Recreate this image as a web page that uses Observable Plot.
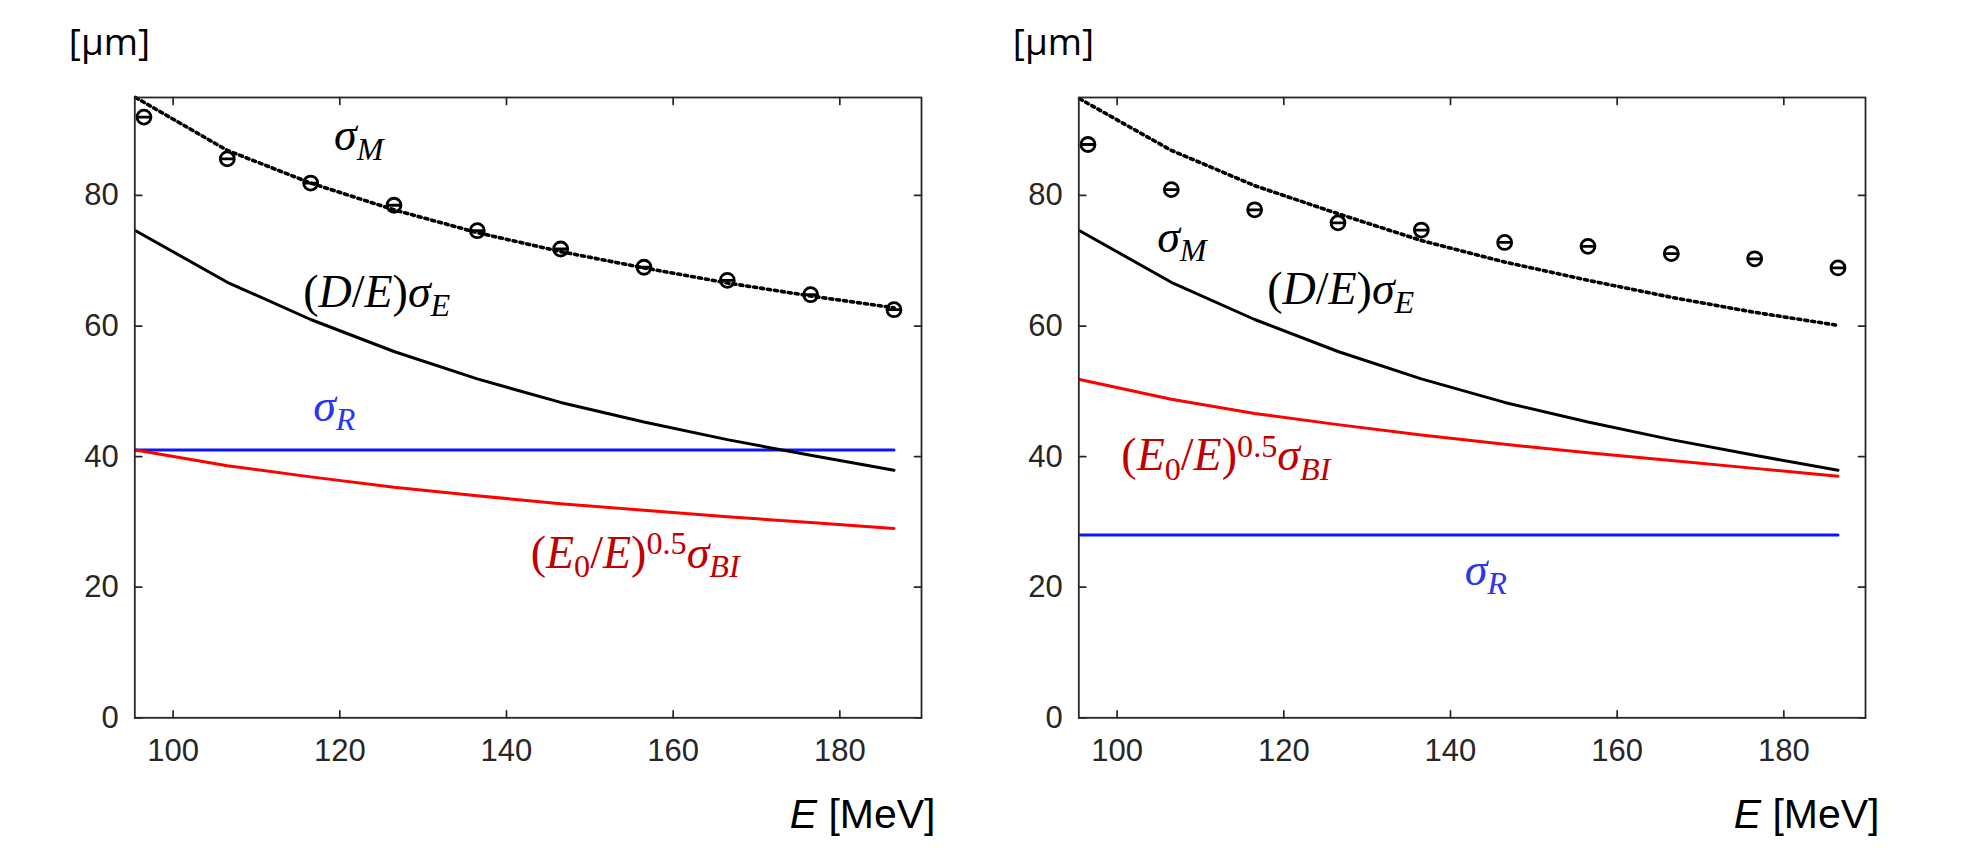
<!DOCTYPE html>
<html><head><meta charset="utf-8">
<script src="https://cdn.jsdelivr.net/npm/d3@7"></script>
<script src="https://cdn.jsdelivr.net/npm/@observablehq/plot@0.6"></script>
<style>
body{margin:0;background:#fff;}
#row{display:flex;width:1962px;height:864px;}
</style></head><body><div id="row"></div>
<script>
// ---- data ----
const xTicks = [100, 120, 140, 160, 180];
const yTicks = [0, 20, 40, 60, 80];
const curveE  = [95.5, 106.5, 116.5, 126.5, 136.5, 146.5, 156.5, 166.5, 176.5, 186.5];
const markerE = [96.5, 106.5, 116.5, 126.5, 136.5, 146.5, 156.5, 166.5, 176.5, 186.5];

const leftDE   = [74.6, 66.7, 61.0, 56.1, 51.9, 48.3, 45.3, 42.6, 40.2, 37.9];
const leftBI   = [41.0, 38.6, 36.9, 35.3, 34.0, 32.8, 31.8, 30.8, 29.9, 29.0];
const leftR    = [41.0, 41.0, 41.0, 41.0, 41.0, 41.0, 41.0, 41.0, 41.0, 41.0];
const leftM    = [95.0, 86.9, 81.9, 77.8, 74.3, 71.4, 68.9, 66.6, 64.6, 62.8];
const leftMeas = [92.0, 85.6, 81.9, 78.5, 74.6, 71.8, 69.0, 67.0, 64.8, 62.5];

const rightDE   = [74.6, 66.7, 61.0, 56.1, 51.9, 48.3, 45.3, 42.6, 40.2, 37.9];
const rightBI   = [51.8, 48.8, 46.6, 44.9, 43.3, 41.9, 40.6, 39.4, 38.2, 37.0];
const rightR    = [28.0, 28.0, 28.0, 28.0, 28.0, 28.0, 28.0, 28.0, 28.0, 28.0];
const rightM    = [94.8, 86.9, 81.5, 77.2, 73.1, 69.8, 67.0, 64.4, 62.1, 60.1];
const rightMeas = [87.8, 80.9, 77.8, 75.8, 74.7, 72.8, 72.2, 71.1, 70.3, 68.9];

const labelTexts = ["σ_{M}", "(D/E)σ_{E}", "σ_{R}", "(E_{0}/E)^{0.5}σ_{BI}"];
const labelColors = ["#000000", "#000000", "#2b36f2", "#c00000"];
const leftLabelX  = [119.3, 115.6, 116.8, 142.9];
const leftLabelY  = [86.9, 62.9, 45.5, 22.9];
const rightLabelX = [104.8, 118.0, 141.7, 100.5];
const rightLabelY = [71.3, 63.4, 20.3, 37.9];

const yUnit = "[µm]";
const xUnit = "E [MeV]";

// ---- helpers ----
const circleMinus = {
  draw(ctx, size) {
    const r = Math.sqrt(size / Math.PI);
    ctx.moveTo(r, 0);
    ctx.arc(0, 0, r, 0, 2 * Math.PI);
    ctx.moveTo(-r, 0);
    ctx.lineTo(r, 0);
  }
};
const tickUp    = {draw(ctx, l) { ctx.moveTo(0, 0); ctx.lineTo(0, -l); }};
const tickDown  = {draw(ctx, l) { ctx.moveTo(0, 0); ctx.lineTo(0, l); }};
const tickRight = {draw(ctx, l) { ctx.moveTo(0, 0); ctx.lineTo(l, 0); }};
const tickLeft  = {draw(ctx, l) { ctx.moveTo(0, 0); ctx.lineTo(-l, 0); }};

const F = 46;
function renderMath(el, markup) {
  const tokens = [];
  let i = 0;
  while (i < markup.length) {
    const c = markup[i];
    if ((c === "_" || c === "^") && markup[i + 1] === "{") {
      const j = markup.indexOf("}", i);
      tokens.push({s: markup.slice(i + 2, j), k: c === "_" ? "sub" : "sup"});
      i = j + 1;
    } else {
      let j = i;
      while (j < markup.length && !((markup[j] === "_" || markup[j] === "^") && markup[j + 1] === "{")) j++;
      tokens.push({s: markup.slice(i, j), k: "base"});
      i = j;
    }
  }
  el.textContent = "";
  let cur = 0;
  for (const t of tokens) {
    const target = t.k === "sub" ? 0.2 * F : t.k === "sup" ? -0.3 * F : 0;
    const runs = t.s.match(/[A-Za-zσ]+|[^A-Za-zσ]+/g);
    let first = true;
    for (const r of runs) {
      const ts = document.createElementNS("http://www.w3.org/2000/svg", "tspan");
      ts.textContent = r;
      ts.setAttribute("font-size", t.k === "base" ? F : 0.7 * F);
      ts.setAttribute("font-style", /[A-Za-zσ]/.test(r[0]) ? "italic" : "normal");
      if (first) { ts.setAttribute("dy", (target - cur).toFixed(2)); cur = target; first = false; }
      el.appendChild(ts);
    }
  }
}

function panel(DE, BI, R, M, meas, lx, ly) {
  const rows = (vals) => curveE.map((E, i) => ({E, v: vals[i]}));
  const pts = markerE.map((E, i) => ({E, v: meas[i]}));
  const labels = labelTexts.map((t, i) => ({t, x: lx[i], y: ly[i], c: labelColors[i]}));
  const tk = {length: 7, anchor: "start", stroke: "#262626", strokeWidth: 1.7};
  const svg = Plot.plot({
    width: 944, height: 864,
    marginLeft: 134.3, marginRight: 23, marginTop: 97, marginBottom: 146.7,
    style: {background: "white", color: "#262626", overflow: "visible", fontFamily: "Liberation Sans"},
    x: {domain: [95.4, 189.8]},
    y: {domain: [0, 95]},
    marks: [
      Plot.line(rows(R), {x: "E", y: "v", stroke: "#0a14ff", strokeWidth: 3}),
      Plot.line(rows(BI), {x: "E", y: "v", stroke: "#ff0000", strokeWidth: 3}),
      Plot.line(rows(DE), {x: "E", y: "v", stroke: "#000000", strokeWidth: 3}),
      Plot.line(rows(M), {x: "E", y: "v", stroke: "#000000", strokeWidth: 3.6, strokeDasharray: "3,4"}),
      Plot.dot(pts, {x: "E", y: "v", symbol: circleMinus, r: 7, stroke: "#000000", strokeWidth: 2.8, fill: "none"}),
      Plot.text(labels, {x: "x", y: "y", text: "t", fill: "c", textAnchor: "start", lineAnchor: "bottom", fontSize: F, fontFamily: "Liberation Serif"}),
      Plot.frame({stroke: "#262626", strokeWidth: 1.8}),
      Plot.vector(xTicks, {x: d => d, frameAnchor: "bottom", shape: tickUp, ...tk}),
      Plot.vector(xTicks, {x: d => d, frameAnchor: "top", shape: tickDown, ...tk}),
      Plot.vector(yTicks, {y: d => d, frameAnchor: "left", shape: tickRight, ...tk}),
      Plot.vector(yTicks, {y: d => d, frameAnchor: "right", shape: tickLeft, ...tk}),
      Plot.axisX({ticks: xTicks, tickSize: 0, tickPadding: 21, fontSize: 31, label: null}),
      Plot.axisY({ticks: yTicks, tickSize: 0, tickPadding: 16, fontSize: 31, label: null}),
      Plot.text([yUnit], {frameAnchor: "top-left", dx: -66, dy: -43, textAnchor: "start", lineAnchor: "bottom", fontSize: 37, fontFamily: "Open Sans", fill: "#000000"}),
      Plot.text([xUnit], {frameAnchor: "bottom-right", dx: 14, dy: 110, textAnchor: "end", lineAnchor: "bottom", fontSize: 41, fontFamily: "Liberation Sans", fill: "#000000"})
    ]
  });
  d3.select(svg).selectAll("text").each(function () {
    const t = this.textContent;
    if (labelTexts.includes(t)) renderMath(this, t);
    else if (t === xUnit) {
      this.textContent = "";
      const a = document.createElementNS("http://www.w3.org/2000/svg", "tspan");
      a.setAttribute("font-style", "italic"); a.textContent = "E";
      const b = document.createElementNS("http://www.w3.org/2000/svg", "tspan");
      b.textContent = " [MeV]";
      this.appendChild(a); this.appendChild(b);
    }
  });
  return svg;
}

const row = document.getElementById("row");
row.appendChild(panel(leftDE, leftBI, leftR, leftM, leftMeas, leftLabelX, leftLabelY));
row.appendChild(panel(rightDE, rightBI, rightR, rightM, rightMeas, rightLabelX, rightLabelY));
</script>
</body></html>
